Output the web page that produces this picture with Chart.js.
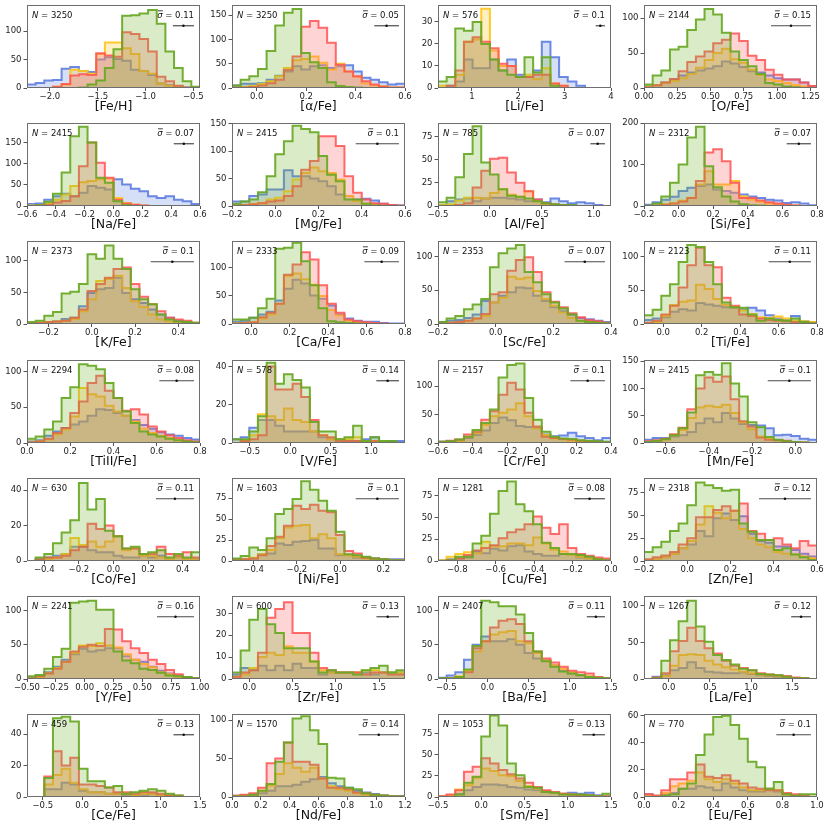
<!DOCTYPE html>
<html><head><meta charset="utf-8">
<script src="https://cdn.jsdelivr.net/npm/chart.js@4.4.0/dist/chart.umd.min.js"></script>
<style>
html,body{margin:0;padding:0;background:#fff;}
#wrap{position:relative;width:830px;height:830px;overflow:hidden;background:#fff;}
canvas{position:absolute;}
</style></head><body><div id="wrap"></div>
<script>
// ---------------- data ----------------
const elementLabels = ['[Fe/H]','[α/Fe]','[Li/Fe]','[O/Fe]',
  '[Na/Fe]','[Mg/Fe]','[Al/Fe]','[Si/Fe]',
  '[K/Fe]','[Ca/Fe]','[Sc/Fe]','[Ti/Fe]',
  '[TiII/Fe]','[V/Fe]','[Cr/Fe]','[Mn/Fe]',
  '[Co/Fe]','[Ni/Fe]','[Cu/Fe]','[Zn/Fe]',
  '[Y/Fe]','[Zr/Fe]','[Ba/Fe]','[La/Fe]',
  '[Ce/Fe]','[Nd/Fe]','[Sm/Fe]','[Eu/Fe]'];
const starCounts = [3250,3250,576,2144, 2415,2415,785,2312, 2373,2333,2353,2123,
  2294,578,2157,2415, 630,1603,1281,2318, 2241,600,2407,1267, 459,1570,1053,770];
const sigmas = [0.11,0.05,0.1,0.15, 0.07,0.1,0.07,0.07, 0.1,0.09,0.07,0.11,
  0.08,0.14,0.1,0.1, 0.11,0.1,0.08,0.12, 0.16,0.13,0.11,0.12, 0.13,0.14,0.13,0.1];
// histogram range (20 equal bins span each x range)
const xRanges = [[-2.24,-0.43],[-0.1,0.6],[0.27,4.0],[0,1.3],
  [-0.6,0.6],[-0.2,0.6],[-0.5,1.165],[-0.2,0.8],
  [-0.3,0.5],[-0.1,0.8],[-0.2,0.4],[-0.1,0.8],
  [0,0.8],[-0.72,1.42],[-0.6,0.4],[-0.7,0.1],
  [-0.5,0.5],[-0.5,0.3],[-0.9,0.0],[-0.2,0.6],
  [-0.5,1.0],[-0.2,1.8],[-0.6,1.5],[-0.3,1.8],
  [-0.7,1.5],[0,1.2],[-0.5,1.5],[0,1.0]];
const yMaxes = [146,171,37.7,118.6, 196,151,89.5,200, 131,148,123,123,
  116,43.4,146,152, 46.8,99,95,91, 121,37.9,121,113.6, 52.7,108,98.8,61.2];
const xTickValues = [[-2.0,-1.5,-1.0,-0.5],[0.0,0.2,0.4,0.6],[1,2,3,4],[0,0.25,0.5,0.75,1.0,1.25],
  [-0.6,-0.4,-0.2,0,0.2,0.4,0.6],[-0.2,0,0.2,0.4,0.6],[-0.5,0,0.5,1.0],[-0.2,0,0.2,0.4,0.6,0.8],
  [-0.2,0,0.2,0.4],[0,0.2,0.4,0.6,0.8],[-0.2,0,0.2,0.4],[0,0.2,0.4,0.6,0.8],
  [0,0.2,0.4,0.6,0.8],[-0.5,0,0.5,1.0],[-0.6,-0.4,-0.2,0,0.2,0.4],[-0.6,-0.4,-0.2,0],
  [-0.4,-0.2,0,0.2,0.4],[-0.4,-0.2,0,0.2],[-0.8,-0.6,-0.4,-0.2,0],[-0.2,0,0.2,0.4,0.6],
  [-0.5,-0.25,0,0.25,0.5,0.75,1.0],[0,0.5,1.0,1.5],[-0.5,0,0.5,1.0,1.5],[0,0.5,1.0,1.5],
  [-0.5,0,0.5,1.0,1.5],[0,0.2,0.4,0.6,0.8,1.0,1.2],[-0.5,0,0.5,1.0,1.5],[0,0.2,0.4,0.6,0.8,1.0]];
const xTickDecimals = [1,1,0,2, 1,1,1,1, 1,1,1,1, 1,1,1,1, 1,1,1,1, 2,1,1,1, 1,1,1,1];
const yTickValues = [[0,50,100],[0,50,100,150],[0,10,20,30],[0,50,100],
  [0,50,100,150],[0,50,100,150],[0,25,50,75],[0,100,200],
  [0,50,100],[0,50,100],[0,50,100],[0,50,100],
  [0,50,100],[0,20,40],[0,50,100],[0,50,100,150],
  [0,20,40],[0,25,50,75],[0,25,50,75],[0,25,50,75],
  [0,50,100],[0,10,20,30],[0,50,100],[0,50,100],
  [0,20,40],[0,50,100],[0,25,50,75],[0,20,40,60]];

// counts per bin for the four samples (green, red, yellow, blue)
const greenCounts = [
  [0,0,0,0,0,0,1,6,13,35,68,127,128,131,137,113,64,35,12,2],
  [5,17,24,39,76,129,155,163,72,53,41,12,4,2,1,0,0,0,0,0],
  [3,5,27,26,30,20,13,8,6,5,14,7,14,1,0,0,0,0,0,0],
  [5,18,25,55,59,83,98,113,105,79,52,40,31,20,7,5,2,1,0,0],
  [0,2,10,29,79,165,187,150,67,55,11,2,0,0,0,0,0,0,0,0],
  [4,8,12,25,54,94,118,146,140,134,91,57,45,12,12,4,1,0,0,0],
  [4,9,31,56,86,47,34,18,11,10,8,5,3,2,1,1,0,0,0,0],
  [1,6,23,56,100,165,191,96,45,23,11,4,2,1,0,0,0,0,0,0],
  [3,5,13,19,48,51,63,110,103,124,103,87,55,39,31,15,7,4,3,2],
  [8,8,11,28,45,134,136,145,112,69,28,5,3,2,1,0,0,0,0,0],
  [3,8,12,22,29,37,84,105,112,117,77,62,44,32,23,14,5,3,2,1],
  [13,21,42,59,92,117,114,92,59,32,25,24,14,5,8,6,5,8,3,1],
  [6,9,19,30,63,78,110,108,103,84,63,44,28,16,12,9,6,4,2,1],
  [2,2,6,14,42,31,36,33,29,11,6,6,2,3,9,1,3,1,1,0],
  [2,3,6,11,23,35,59,115,137,140,79,41,20,11,8,7,5,4,3,2],
  [2,4,7,14,27,56,124,130,125,146,109,85,38,29,11,6,3,2,1,0],
  [0,2,4,10,16,23,44,29,35,17,14,7,8,4,5,6,2,4,2,5],
  [3,6,16,13,27,56,62,74,95,85,72,60,35,8,7,5,3,2,1,1],
  [0,1,5,5,20,29,54,80,91,65,57,42,21,15,8,8,7,5,2,1],
  [10,15,21,33,41,61,86,83,80,77,78,41,32,23,23,12,14,7,4,1],
  [4,6,15,32,44,111,113,114,101,101,40,27,23,15,13,9,5,4,3,1],
  [3,13,27,32,25,21,14,14,14,8,3,4,3,3,2,4,5,6,3,4],
  [1,1,3,14,48,114,112,106,106,94,67,40,26,18,11,8,6,3,2,1],
  [0,1,25,53,79,107,72,51,33,26,20,14,12,7,6,5,3,1,1,0],
  [0,0,12,50,51,48,18,10,10,6,7,2,3,4,5,4,2,1,0,0],
  [1,1,3,8,17,46,71,102,105,87,69,25,24,12,10,5,3,2,1,1],
  [0,0,3,17,24,72,97,85,40,26,12,11,6,5,3,3,3,2,1,4],
  [0,0,1,2,6,10,31,46,59,60,53,43,26,22,6,11,2,1,2,2]];
const redCounts = [
  [0,0,0,2,7,22,24,23,61,57,55,98,95,86,64,20,12,4,1,0],
  [1,1,2,5,10,17,37,65,126,138,124,93,48,34,24,14,7,3,1,1],
  [0,1,8,21,23,21,18,11,10,5,5,6,6,2,1,0,0,0,0,0],
  [1,4,8,13,24,37,45,52,64,69,78,67,46,40,26,19,12,12,8,3],
  [0,1,3,8,12,23,94,150,102,67,15,6,3,1,0,0,0,0,0,0],
  [1,2,3,5,8,10,18,36,66,82,127,127,109,54,24,12,5,4,2,1],
  [0,0,1,3,20,38,51,52,36,25,16,7,3,2,1,0,0,0,0,0],
  [0,1,3,6,11,19,60,129,137,108,56,19,19,13,9,6,3,1,0,0],
  [1,2,3,4,5,10,23,52,63,73,87,89,63,43,31,20,10,7,5,2],
  [1,2,3,12,20,36,88,106,128,115,69,36,20,8,5,3,2,1,0,0],
  [1,2,3,5,8,15,44,47,79,95,99,77,47,33,25,16,10,6,4,2],
  [2,5,14,27,54,87,113,87,84,39,27,14,12,8,6,5,4,3,2,1],
  [1,2,6,14,21,42,58,84,94,73,63,45,47,40,23,16,11,7,4,2],
  [0,1,2,4,40,28,28,31,24,12,4,3,1,1,1,0,1,0,0,0],
  [2,4,6,15,20,41,56,85,106,94,53,29,11,9,7,6,4,3,2,1],
  [3,5,8,16,28,62,100,120,112,122,80,40,30,10,6,5,4,2,1,0],
  [0,1,2,2,3,6,8,21,18,20,14,7,7,4,4,8,4,3,5,2],
  [1,2,3,7,18,29,42,66,62,67,60,58,31,12,9,4,3,2,1,1],
  [0,1,3,7,12,15,18,26,33,36,42,51,38,31,42,15,8,6,4,3],
  [2,4,6,10,18,25,48,48,56,60,55,63,33,30,23,25,18,14,22,17],
  [1,4,8,15,25,40,47,50,48,73,72,55,45,38,28,22,13,7,3,1],
  [1,3,4,12,28,32,35,21,21,12,5,4,3,3,3,2,3,3,2,2],
  [0,1,3,10,45,55,75,85,87,80,55,40,30,24,18,12,10,8,3,1],
  [0,2,8,38,52,70,52,42,35,25,18,15,12,8,6,5,4,2,1,0],
  [0,0,13,29,20,25,8,8,7,6,3,3,2,3,3,2,1,1,0,0],
  [2,3,5,12,44,50,71,46,46,42,24,12,12,10,6,5,3,2,1,1],
  [1,3,8,30,36,46,40,32,27,22,17,12,8,6,4,3,2,2,1,1],
  [2,1,5,13,13,18,24,15,14,16,12,10,7,6,5,5,3,2,1,0]];
const yellowCounts = [
  [0,0,0,2,6,32,30,25,60,80,80,70,60,30,25,8,4,2,0,0],
  [1,2,4,8,14,24,41,57,60,65,52,38,50,34,23,10,5,3,1,1],
  [1,0,6,21,22,36,17,10,10,5,6,4,9,2,1,0,0,0,0,0],
  [2,4,7,10,14,20,29,40,50,56,41,36,26,19,12,10,7,4,2,1],
  [1,2,6,15,27,47,56,59,63,65,19,7,3,1,0,0,0,0,0,0],
  [1,2,4,6,12,15,27,48,60,70,63,60,48,18,9,4,2,1,0,0],
  [1,2,6,9,9,8,14,18,12,10,16,5,2,1,1,0,0,0,0,0],
  [0,1,4,8,13,20,52,84,52,52,60,23,15,10,6,4,2,1,0,0],
  [1,2,3,4,5,8,20,39,68,71,76,57,36,27,15,7,4,2,1,1],
  [1,2,3,10,17,36,86,90,80,70,50,25,15,6,3,2,1,0,0,0],
  [1,2,3,5,8,12,32,39,70,67,69,49,37,27,17,9,5,3,2,1],
  [1,3,12,28,33,35,58,52,37,28,25,20,15,10,9,11,8,5,4,3],
  [1,2,5,12,19,37,77,68,65,52,44,38,30,20,14,10,7,4,2,1],
  [0,1,4,15,14,12,18,12,11,6,4,2,2,2,3,1,1,1,0,0],
  [1,2,4,11,17,32,47,53,59,70,47,26,14,8,6,4,3,2,1,1],
  [1,3,6,14,24,46,65,68,66,70,55,38,25,12,8,5,3,2,1,0],
  [0,0,1,2,4,13,9,11,8,11,14,6,7,3,3,2,1,2,1,1],
  [1,2,4,8,13,27,40,42,43,27,32,27,8,7,5,3,2,1,1,1],
  [1,5,8,10,9,22,17,17,20,20,18,27,20,13,11,7,5,3,2,1],
  [1,2,4,8,14,22,40,60,53,47,55,35,25,18,15,10,8,7,5,3],
  [1,3,8,16,25,38,49,48,52,49,46,36,28,22,17,10,7,4,2,1],
  [1,2,5,10,12,11,15,12,12,8,4,3,3,3,3,4,4,3,3,3],
  [0,1,4,12,40,55,65,68,70,55,52,38,27,20,15,10,6,4,2,1],
  [0,1,4,18,33,34,33,25,20,16,13,10,8,6,5,4,2,1,1,0],
  [0,0,8,14,18,9,5,3,3,2,2,2,1,2,2,1,1,0,0,0],
  [1,2,3,8,15,30,44,38,33,38,24,14,10,8,5,3,2,1,1,0],
  [1,2,9,14,23,34,31,26,25,19,13,10,7,5,4,3,2,2,1,1],
  [1,1,3,8,10,12,18,13,11,13,10,7,5,5,6,5,2,1,1,0]];
const blueCounts = [
  [6,9,13,14,34,37,30,28,50,54,51,48,32,30,23,8,5,3,1,1],
  [5,9,9,10,17,25,34,45,38,45,47,41,45,47,34,21,17,12,7,9],
  [0,1,3,13,9,9,13,8,13,6,5,8,21,14,5,3,1,0,0,0],
  [2,4,8,12,18,22,25,28,31,38,35,30,24,22,18,14,12,12,8,3],
  [5,6,15,23,29,23,31,47,43,39,63,51,41,35,23,19,23,15,11,5],
  [8,8,18,21,30,30,65,54,54,50,45,36,21,18,12,13,10,4,2,1],
  [1,5,7,8,5,8,9,9,8,7,5,7,4,8,5,3,4,3,1,0],
  [3,9,15,22,36,44,48,52,40,36,32,28,23,19,15,13,7,9,6,2],
  [0,1,2,4,8,10,28,49,55,57,73,49,39,33,23,15,10,5,3,1],
  [4,6,11,17,22,42,63,79,72,51,45,33,17,10,6,4,4,2,1,1],
  [3,5,6,9,14,34,32,42,47,54,53,42,34,25,19,14,9,7,5,3],
  [6,8,10,18,22,20,31,29,27,25,24,22,24,20,13,8,6,12,4,3],
  [2,4,10,16,21,26,30,38,47,46,42,38,32,25,20,15,12,10,7,5],
  [2,3,8,12,12,9,6,6,6,6,3,2,2,1,1,2,3,1,1,1],
  [2,3,5,9,14,22,35,45,40,30,28,27,15,12,13,18,12,9,5,9],
  [6,9,9,12,14,20,36,45,38,55,45,35,33,32,27,14,15,13,8,6],
  [0,1,2,3,4,8,8,6,5,5,3,2,2,3,2,3,1,2,1,1],
  [2,2,3,8,9,21,19,23,24,25,15,15,7,7,4,4,3,2,2,2],
  [1,2,3,4,11,9,14,12,17,18,11,8,6,6,8,7,4,3,2,1],
  [1,2,4,8,14,18,33,27,47,52,45,49,30,22,20,16,16,12,8,5],
  [2,5,10,18,28,36,44,40,42,45,45,33,28,25,18,12,8,5,3,1],
  [2,5,4,6,4,6,4,7,5,5,2,3,3,3,3,3,2,3,3,3],
  [2,5,10,28,50,62,55,55,58,50,38,30,27,20,12,8,5,3,2,1],
  [0,3,5,12,15,23,15,10,9,8,8,9,7,5,4,3,2,1,1,0],
  [0,0,5,5,9,8,4,3,3,2,2,1,1,1,2,1,1,0,0,0],
  [1,2,3,5,8,14,14,16,20,23,26,18,14,12,8,6,4,2,1,1],
  [1,2,4,8,12,15,15,14,12,11,9,8,6,5,4,5,4,5,2,1],
  [2,1,2,3,6,6,8,7,5,10,7,5,4,4,6,4,2,1,1,0]];

// ---------------- layout / style ----------------
const COL_LEFT = [27,232,438,644];
const ROW_TOP = [5,123,241,360,478,596,714];
const PW = 173, PH = 83;          // plot area size
const YW = 30, PT = 8, XH = 30, PR = 16;
const FONT = "'DejaVu Sans', sans-serif";
Chart.defaults.font.family = FONT;
Chart.defaults.color = '#222';

const seriesStyle = [
  {line:'rgba(104,168,36,0.92)', fill:'rgba(112,176,44,0.26)'},
  {line:'rgba(255,82,82,0.85)',  fill:'rgba(255,96,96,0.27)'},
  {line:'rgba(255,196,24,0.9)',  fill:'rgba(255,200,40,0.28)'},
  {line:'rgba(84,118,222,0.85)', fill:'rgba(92,126,226,0.25)'}
];

function stepPoints(range, counts){
  const [x0,x1] = range, n = counts.length, w = (x1-x0)/n;
  const pts = [{x:x0,y:0}];
  counts.forEach((c,k)=>pts.push({x:x0+k*w, y:c}));
  pts.push({x:x1, y:counts[n-1]}, {x:x1, y:0});
  return pts;
}
function fmt(v,d){
  const s = Math.abs(v).toFixed(d);
  return (v < -1e-9 ? '\u2212' : '') + s;
}

function annotPlugin(i){
  return {id:'annot'+i, afterDraw(chart){
    const {ctx, chartArea:a, scales} = chart;
    const xs = scales.x, ys = scales.y;
    ctx.save();
    ctx.strokeStyle = '#6e6e6e'; ctx.lineWidth = 1;
    ctx.strokeRect(a.left+0.5, a.top+0.5, a.width-1, a.height-1);
    const ty = a.top + 11;
    ctx.fillStyle = '#111'; ctx.textBaseline = 'middle'; ctx.textAlign = 'left';
    ctx.font = 'italic 8.5px ' + FONT;
    ctx.fillText('N', a.left+5, ty);
    const wn = ctx.measureText('N').width;
    ctx.font = '8.5px ' + FONT;
    ctx.fillText(' = ' + starCounts[i], a.left+5+wn, ty);
    const rest = ' = ' + sigmas[i];
    const wr = ctx.measureText(rest).width;
    const xr = a.right - 6;
    ctx.textAlign = 'right'; ctx.fillText(rest, xr, ty);
    ctx.font = 'italic 8.5px ' + FONT;
    const ws = ctx.measureText('\u03c3').width;
    ctx.textAlign = 'left'; ctx.fillText('\u03c3', xr-wr-ws, ty);
    ctx.beginPath(); ctx.moveTo(xr-wr-ws+0.8, ty-5.2); ctx.lineTo(xr-wr+0.3, ty-5.2);
    ctx.lineWidth = 0.8; ctx.strokeStyle = '#111'; ctx.stroke();
    const [x0,x1] = xRanges[i], s = sigmas[i];
    const xc = x1 - 0.035*(x1-x0) - s;
    const py = ys.getPixelForValue(yMaxes[i]*0.75);
    ctx.beginPath();
    ctx.moveTo(xs.getPixelForValue(xc-s), py); ctx.lineTo(xs.getPixelForValue(xc+s), py);
    ctx.strokeStyle = '#4a4a4a'; ctx.lineWidth = 1.2; ctx.stroke();
    ctx.beginPath(); ctx.arc(xs.getPixelForValue(xc), py, 1.3, 0, Math.PI*2);
    ctx.fillStyle = '#111'; ctx.fill();
    ctx.restore();
  }};
}

const wrap = document.getElementById('wrap');
for (let i = 0; i < 28; i++){
  const r = Math.floor(i/4), c = i % 4;
  const W = YW+PW+PR, H = PT+PH+XH;
  const cv = document.createElement('canvas');
  cv.width = W; cv.height = H;
  cv.style.left = (COL_LEFT[c]-YW)+'px'; cv.style.top = (ROW_TOP[r]-PT)+'px';
  cv.style.width = W+'px'; cv.style.height = H+'px';
  wrap.appendChild(cv);
  const all = [greenCounts[i], redCounts[i], yellowCounts[i], blueCounts[i]];
  const xt = xTickValues[i], yt = yTickValues[i], dec = xTickDecimals[i];
  new Chart(cv, {
    type:'line',
    data:{datasets: all.map((cnt,k)=>({
      data: stepPoints(xRanges[i], cnt),
      stepped:'before', borderColor: seriesStyle[k].line, backgroundColor: seriesStyle[k].fill,
      borderWidth: 2, fill:'origin', pointRadius:0, pointHoverRadius:0, tension:0
    }))},
    options:{
      responsive:false, animation:false, events:[], devicePixelRatio:1,
      layout:{padding:{left:0, top:PT, right:PR, bottom:0}},
      plugins:{legend:{display:false}, tooltip:{enabled:false}},
      scales:{
        x:{type:'linear', min:xRanges[i][0], max:xRanges[i][1],
          afterFit:s=>{s.height = XH;},
          afterBuildTicks:s=>{s.ticks = xt.map(v=>({value:v}));},
          ticks:{autoSkip:false, maxRotation:0, minRotation:0, padding:1, font:{size:8.5}, color:'#222',
            callback:v=>fmt(v,dec)},
          grid:{display:true, drawOnChartArea:false, drawTicks:true, tickLength:3, color:'#555'},
          border:{display:false},
          title:{display:true, text:elementLabels[i], font:{size:12.5}, color:'#111', padding:{top:0,bottom:3.5}}},
        y:{type:'linear', min:0, max:yMaxes[i],
          afterFit:s=>{s.width = YW;},
          afterBuildTicks:s=>{s.ticks = yt.map(v=>({value:v}));},
          ticks:{autoSkip:false, padding:2, font:{size:8.5}, color:'#222', callback:v=>String(v)},
          grid:{display:true, drawOnChartArea:false, drawTicks:true, tickLength:3.5, color:'#555'},
          border:{display:false}}
      }
    },
    plugins:[annotPlugin(i)]
  });
}
</script>
</body></html>
